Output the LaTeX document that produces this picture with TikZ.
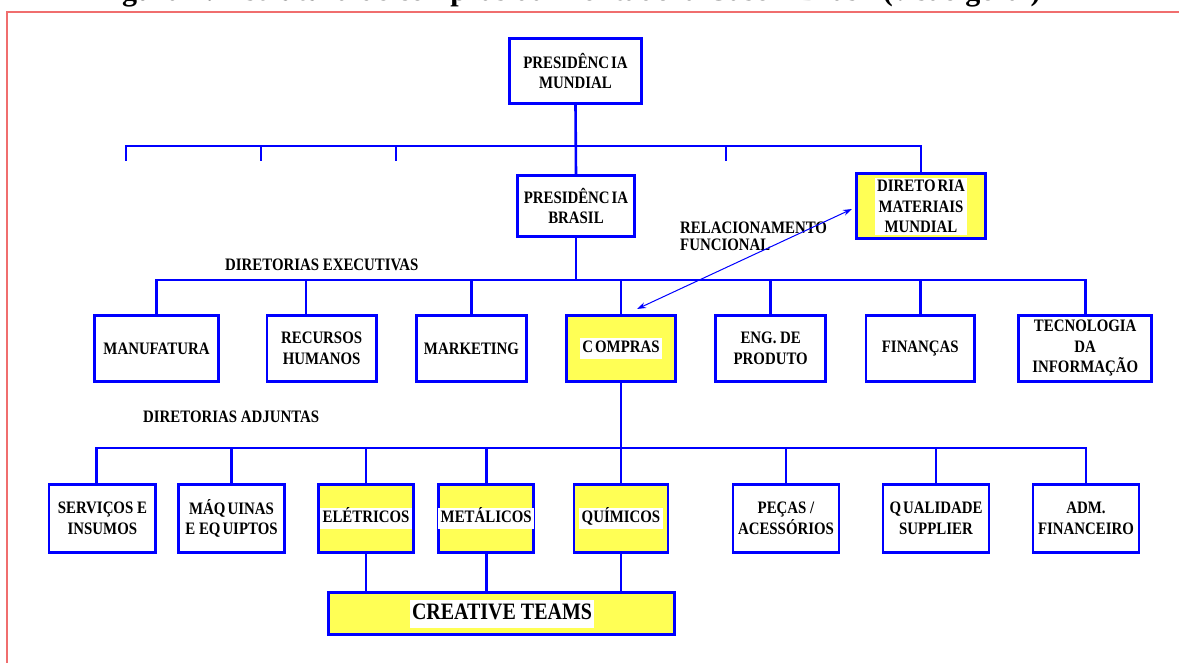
\documentclass[tikz,border=0pt]{standalone}
\usepackage{fontspec}
\setmainfont{Liberation Serif}
\newfontfamily\bxf[FakeStretch=0.85]{Liberation Serif}
\usetikzlibrary{arrows.meta}
\definecolor{ylw}{RGB}{255,255,85}
\definecolor{frm}{RGB}{240,110,110}
\definecolor{bl}{RGB}{0,0,255}
\tikzset{
 box/.style={draw=bl, line width=2.6pt, fill=white, inner sep=0pt, align=center,
   font=\bxf\bfseries\fontsize{17.5}{20.5}\selectfont},
 ybox/.style={box, fill=ylw},
 hl/.style={fill=white, inner xsep=2.5pt, inner ysep=3pt, text height=11.8pt, text depth=3.5pt,
   font=\bxf\bfseries\fontsize{17.5}{20.5}\selectfont},
 conn/.style={draw=bl, line width=2.6pt},
 lbl/.style={font=\bxf\bfseries\fontsize{17.5}{17}\selectfont, inner sep=0pt, align=left},
 rowa/.style={minimum height=66.4pt},
 rowb/.style={minimum height=68.4pt},
}
\begin{document}
\begin{tikzpicture}[x=1pt,y=-1pt]
\useasboundingbox (0,0) rectangle (1179,663);
% frame and clipped title
\draw[frm, line width=1.3pt] (7,700) -- (7,12) -- (1220,12);
\node[anchor=base, inner sep=0pt] (title) at (568,1) {\resizebox{945pt}{!}{\bfseries Figura 4: Estrutura de compras da Montadora Case – Brasil (visão geral)}};

% top levels
\node[box, minimum width=132.4pt, minimum height=65.4pt] (pm) at (575.5,71) {PRESIDÊNC\kern2pt IA\\MUNDIAL};
\node[box, minimum width=117.4pt, minimum height=61.4pt] (pb) at (576,206) {PRESIDÊNC\kern2pt IA\\BRASIL};
\node[ybox, minimum width=129.4pt, minimum height=65.4pt] (dmm) at (921,206) {};
\node[fill=white, inner sep=2pt, align=center, font=\bxf\bfseries\fontsize{17.5}{20.5}\selectfont] (dmmt) at (921,206.5) {DIRETO\kern2pt RIA\\MATERIAIS\\MUNDIAL};

% row 1
\node[box, rowa, minimum width=124.4pt] (man) at (156.5,348.5) {MANUFATURA};
\node[box, rowa, minimum width=109.5pt] (rh) at (321.6,348.5) {RECURSOS\\HUMANOS};
\node[box, rowa, minimum width=109.9pt] (mkt) at (471.5,348.5) {MARKETING};
\node[ybox, rowa, minimum width=109.4pt] (com) at (621,348.5) {};
\node[hl] (comt) at (621,348.5) {C\kern2pt OMPRAS};
\node[box, rowa, minimum width=110pt] (eng) at (770.7,348.5) {ENG. DE\\PRODUTO};
\node[box, rowa, minimum width=108.8pt] (fin) at (920.3,348.5) {FINANÇAS};
\node[box, rowa, minimum width=133pt] (ti) at (1085.2,348.5) {TECNOLOGIA\\DA\\INFORMAÇÃO};

% row 2
\node[box, rowb, minimum width=106.6pt] (sv) at (102.4,518.5) {SERVIÇOS E\\INSUMOS};
\node[box, rowb, minimum width=106.4pt] (maq) at (231.5,518.5) {MÁQ\kern2pt UINAS\\E EQ\kern2pt UIPTOS};
\node[ybox, rowb, minimum width=95.4pt] (ele) at (366,518.5) {};
\node[hl] (elet) at (366,518.5) {ELÉTRICOS};
\node[ybox, rowb, minimum width=95pt] (met) at (486.2,518.5) {};
\node[hl] (mett) at (486.2,518.5) {METÁLICOS};
\node[ybox, rowb, minimum width=94.2pt] (qui) at (621,518.5) {};
\node[hl] (quit) at (621,518.5) {QUÍMICOS};
\node[box, rowb, minimum width=106pt] (pec) at (786,518.5) {PEÇAS /\\ACESSÓRIOS};
\node[box, rowb, minimum width=106pt] (qua) at (936,518.5) {Q\kern2pt UALIDADE\\SUPPLIER};
\node[box, rowb, minimum width=106pt] (adm) at (1086,518.5) {ADM.\\FINANCEIRO};

% creative teams
\node[ybox, minimum width=346.4pt, minimum height=42.4pt] (ct) at (501.5,613.5) {};
\node[hl, inner xsep=2pt, inner ysep=4pt, text height=15.5pt, text depth=4.5pt,
  font=\bxf\bfseries\fontsize{23.5}{25}\selectfont] (ctt) at (502,614) {CREATIVE TEAMS};

% labels
\node[lbl, anchor=base west] (dexe) at (225,270.8) {DIRETORIAS EXECUTIVAS};
\node[lbl, anchor=north west] (rel) at (680,222.2) {RELACIONAMENTO\\FUNCIONAL};
\node[lbl, anchor=base west] (dadj) at (143,422.8) {DIRETORIAS ADJUNTAS};

% top bus
\coordinate (tb) at (575.5,146);
\coordinate (t1) at (126,161);
\coordinate (t2) at (261,161);
\coordinate (t3) at (396,161);
\coordinate (t4) at (726,161);
\draw[conn] (pm.south) -- (pb.north);
\draw[conn] (t1) -- (t1 |- tb) -- (dmm.north |- tb) -- (dmm.north);
\foreach \c in {t2,t3,t4} \draw[conn] (\c) -- (\c |- tb);

% executive bus
\coordinate (b2) at (576,280);
\coordinate (rht) at ([xshift=-15.6pt]rh.north);
\draw[conn] (pb.south) -- (b2);
\draw[conn] (man.north) -- (man.north |- b2) -- (ti.north |- b2) -- (ti.north);
\draw[conn] (rht) -- (rht |- b2);
\foreach \n in {mkt,com,eng,fin} \draw[conn] (\n.north) -- (\n.north |- b2);

% adjunct bus
\coordinate (b3) at (621,448);
\coordinate (svt) at ([xshift=-6pt]sv.north);
\draw[conn] (com.south) -- (com.south |- b3);
\draw[conn] (svt) -- (svt |- b3) -- (adm.north |- b3) -- (adm.north);
\foreach \n in {maq,ele,met,qui,pec,qua} \draw[conn] (\n.north) -- (\n.north |- b3);

% creative teams links
\foreach \n in {ele,met,qui} \draw[conn] (\n.south) -- (\n.south |- ct.north);

% functional relation arrow
\draw[bl, line width=1pt, {Stealth[length=9pt,width=6pt]}-{Stealth[length=9pt,width=6pt]}]
  ([xshift=16pt,yshift=5pt]com.north) -- ([xshift=-3pt,yshift=-3pt]dmm.west);
\end{tikzpicture}
\end{document}
